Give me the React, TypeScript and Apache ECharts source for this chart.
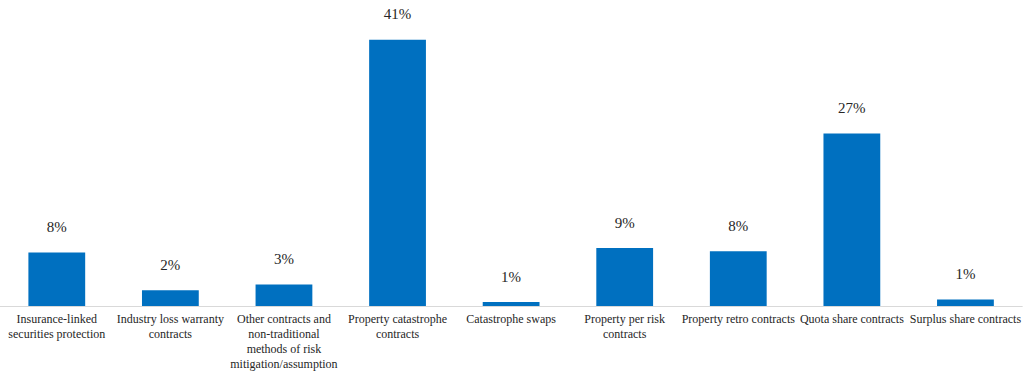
import React, { useEffect, useRef } from "react";
import * as echarts from "echarts";

const categories = [
  "Insurance-linked\nsecurities protection",
  "Industry loss warranty\ncontracts",
  "Other contracts and\nnon-traditional\nmethods of risk\nmitigation/assumption",
  "Property catastrophe\ncontracts",
  "Catastrophe swaps",
  "Property per risk\ncontracts",
  "Property retro contracts",
  "Quota share contracts",
  "Surplus share contracts",
];
const shares = [8.2, 2.4, 3.3, 40.9, 0.6, 8.9, 8.4, 26.5, 1.0];

const FONT = "Liberation Serif";

export default function App() {
  const ref = useRef<HTMLDivElement>(null);
  useEffect(() => {
    if (!ref.current) return;
    const chart = echarts.init(ref.current, undefined, { renderer: "svg" });
    chart.setOption({
      animation: false,
      grid: { left: 0, right: 0, top: 13, bottom: 64, containLabel: false },
      xAxis: {
        type: "category",
        data: categories,
        axisLine: { lineStyle: { color: "#D9D9D9", width: 1 } },
        axisTick: { show: false },
        axisLabel: {
          interval: 0,
          margin: 5,
          color: "#262626",
          fontFamily: FONT,
          fontSize: 12,
          lineHeight: 15,
          align: "center",
        },
      },
      yAxis: {
        type: "value",
        min: 0,
        max: 45,
        show: false,
        splitLine: { show: false },
      },
      series: [
        {
          type: "bar",
          data: shares,
          barWidth: "50%",
          itemStyle: { color: "#0070C0" },
          label: {
            show: true,
            position: "top",
            distance: 18,
            color: "#262626",
            fontFamily: FONT,
            fontSize: 15,
            formatter: (p: any) => Math.round(p.value) + "%",
          },
        },
      ],
    });
    return () => chart.dispose();
  }, []);
  return (
    <div
      ref={ref}
      style={{ position: "fixed", left: 0, top: 0, width: 1024, height: 371, background: "#fff" }}
    />
  );
}
